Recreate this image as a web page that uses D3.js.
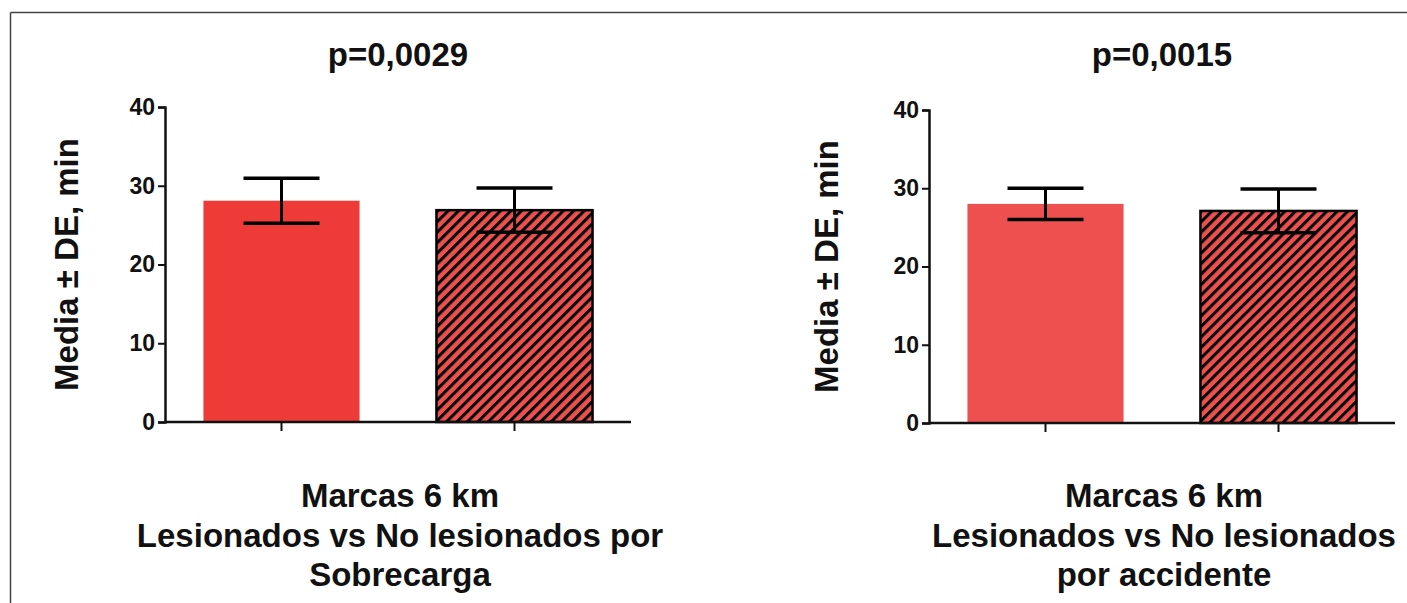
<!DOCTYPE html>
<html>
<head>
<meta charset="utf-8">
<script src="https://cdn.jsdelivr.net/npm/d3@7"></script>
<style>
  body { margin: 0; background: #fff; }
  text { font-family: "Liberation Sans", Arial, sans-serif; font-weight: bold; fill: #111; }
</style>
</head>
<body>
<div id="chart"></div>
<script>
// data
const groups = ["Lesionados", "No lesionados"];
const pTitles = ["p=0,0029", "p=0,0015"];
const meanSobrecarga = [28.1, 26.9];
const sdSobrecarga = [2.85, 2.8];
const meanAccidente = [28.0, 27.1];
const sdAccidente = [2.0, 2.8];
const yTicks = [0, 10, 20, 30, 40];
const yLabel = "Media \u00b1 DE, min";
const xLabelSobrecarga = ["Marcas 6 km", "Lesionados vs No lesionados por", "Sobrecarga"];
const xLabelAccidente = ["Marcas 6 km", "Lesionados vs No lesionados", "por accidente"];

const W = 1407, H = 603;

const svg = d3.select("#chart")
  .append("svg")
    .attr("width", W)
    .attr("height", H);

// hatch for the second bar
const defs = svg.append("defs");
const hatch = defs.append("pattern")
    .attr("id", "hatch")
    .attr("patternUnits", "userSpaceOnUse")
    .attr("width", 7.4)
    .attr("height", 7.4)
    .attr("patternTransform", "rotate(45)");
hatch.append("rect")
    .attr("width", 7.4).attr("height", 7.4)
    .attr("fill", "#ee5050");
hatch.append("line")
    .attr("x1", 1.5).attr("y1", 0).attr("x2", 1.5).attr("y2", 7.4)
    .attr("stroke", "#000").attr("stroke-width", 3);

// frame lines (top & left)
svg.append("line")
    .attr("x1", 10.5).attr("y1", 12.5).attr("x2", W).attr("y2", 12.5)
    .attr("stroke", "#444").attr("stroke-width", 1.5);
svg.append("line")
    .attr("x1", 10.5).attr("y1", 12.5).attr("x2", 10.5).attr("y2", H)
    .attr("stroke", "#444").attr("stroke-width", 1.5);

const panels = [
  {left: 165, top: 107, bottom: 422, title: pTitles[0], means: meanSobrecarga, sds: sdSobrecarga,
   xlab: xLabelSobrecarga, fill1: "#ee3b37", ylabX: 78},
  {left: 929, top: 110, bottom: 423, title: pTitles[1], means: meanAccidente, sds: sdAccidente,
   xlab: xLabelAccidente, fill1: "#ee4f4f", ylabX: 838}
];

const plotW = 466;

panels.forEach(function(p) {
  const g = svg.append("g")
      .attr("transform", `translate(${p.left},0)`);

  const x = d3.scaleBand()
      .domain(groups)
      .range([0, plotW])
      .paddingInner(0.33)
      .paddingOuter(0.165);

  const y = d3.scaleLinear()
      .domain([0, 40])
      .range([p.bottom, p.top]);

  // bars
  g.selectAll("rect.bar")
    .data(groups)
    .join("rect")
      .attr("class", "bar")
      .attr("x", d => x(d))
      .attr("width", x.bandwidth())
      .attr("y", (d, i) => y(p.means[i]))
      .attr("height", (d, i) => y(0) - y(p.means[i]))
      .attr("fill", (d, i) => i == 0 ? p.fill1 : "url(#hatch)")
      .attr("stroke", (d, i) => i == 0 ? "none" : "#000")
      .attr("stroke-width", 2.5);

  // error bars
  const cap = 38;
  const eb = g.selectAll("g.err")
    .data(groups)
    .join("g")
      .attr("class", "err")
      .attr("transform", d => `translate(${x(d) + x.bandwidth() / 2},0)`);
  eb.append("line")
      .attr("y1", (d, i) => y(p.means[i] + p.sds[i]))
      .attr("y2", (d, i) => y(p.means[i] - p.sds[i]))
      .attr("stroke", "#000").attr("stroke-width", 3);
  eb.append("line")
      .attr("x1", -cap).attr("x2", cap)
      .attr("y1", (d, i) => y(p.means[i] + p.sds[i]))
      .attr("y2", (d, i) => y(p.means[i] + p.sds[i]))
      .attr("stroke", "#000").attr("stroke-width", 3.5);
  eb.append("line")
      .attr("x1", -cap).attr("x2", cap)
      .attr("y1", (d, i) => y(p.means[i] - p.sds[i]))
      .attr("y2", (d, i) => y(p.means[i] - p.sds[i]))
      .attr("stroke", "#000").attr("stroke-width", 3.5);

  // y axis
  const yAxis = g.append("g")
      .call(d3.axisLeft(y).tickValues(yTicks).tickSize(7).tickPadding(3));
  yAxis.select(".domain").attr("stroke", "#111").attr("stroke-width", 2.5);
  yAxis.selectAll(".tick line").attr("stroke", "#111").attr("stroke-width", 2);
  yAxis.selectAll(".tick text")
      .style("font-size", "23px")
      .style("font-family", "Liberation Sans, Arial, sans-serif")
      .style("font-weight", "bold")
      .attr("fill", "#111");

  // x axis
  const xAxis = g.append("g")
      .attr("transform", `translate(0,${p.bottom})`)
      .call(d3.axisBottom(x).tickSize(9).tickFormat(""));
  xAxis.select(".domain").attr("stroke", "#111").attr("stroke-width", 2.5)
      .attr("d", `M0,0H${plotW}`);
  xAxis.selectAll(".tick line").attr("stroke", "#111").attr("stroke-width", 2);

  // title
  g.append("text")
      .attr("x", plotW / 2)
      .attr("y", 66)
      .attr("text-anchor", "middle")
      .style("font-size", "33px")
      .text(p.title);

  // x label (three lines)
  g.append("g").selectAll("text")
    .data(p.xlab)
    .join("text")
      .attr("x", plotW / 2 + 2)
      .attr("y", (d, i) => 507 + i * 39.5)
      .attr("text-anchor", "middle")
      .style("font-size", "33px")
      .text(d => d);

  // y label
  svg.append("text")
      .attr("transform", `translate(${p.ylabX},${(p.top + p.bottom) / 2}) rotate(-90)`)
      .attr("text-anchor", "middle")
      .style("font-size", "33px")
      .text(yLabel);
});
</script>
</body>
</html>
